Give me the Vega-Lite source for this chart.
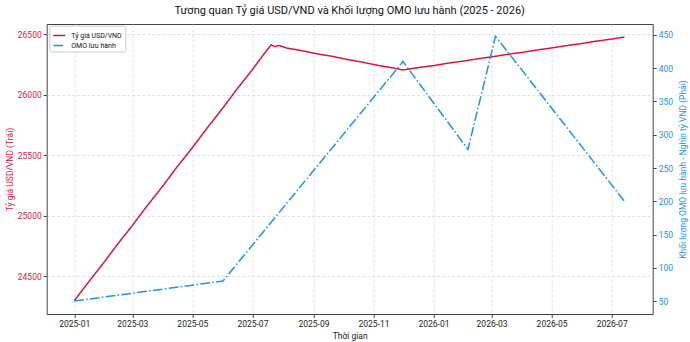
{
  "$schema": "https://vega.github.io/schema/vega-lite/v6.json",
  "width": 606,
  "height": 290,
  "autosize": {"type": "none"},
  "padding": {"left": 46.7, "top": 24, "right": 37.3, "bottom": 28},
  "title": {
    "text": "Tương quan Tỷ giá USD/VND và Khối lượng OMO lưu hành (2025 - 2026)",
    "font": "Roboto",
    "fontSize": 11,
    "fontWeight": "normal",
    "color": "#111111",
    "anchor": "middle",
    "frame": "group",
    "offset": 8
  },
  "config": {
    "font": "Roboto",
    "view": {"stroke": "#444444", "strokeWidth": 1},
    "axis": {
      "labelFont": "Roboto",
      "titleFont": "Roboto",
      "labelFontSize": 8.5,
      "titleFontSize": 8.5,
      "titleFontWeight": "normal",
      "domain": false,
      "tickColor": "#444444",
      "tickSize": 3.5,
      "gridColor": "#d6d6d6",
      "gridDash": [3, 2],
      "gridWidth": 0.7
    },
    "legend": {
      "orient": "none",
      "legendX": 2.6,
      "legendY": 1.5,
      "padding": 3,
      "strokeColor": "#cccccc",
      "fillColor": "white",
      "cornerRadius": 2,
      "symbolType": "stroke",
      "symbolSize": 144,
      "symbolStrokeWidth": 1.5,
      "labelFont": "Roboto",
      "labelFontSize": 7,
      "labelColor": "#111111",
      "labelOffset": 5,
      "rowPadding": -3.5
    }
  },
  "data": {
    "values": [
      {"date": "2025-01-01", "series": "Tỷ giá USD/VND", "value": 24295},
      {"date": "2025-01-15", "series": "Tỷ giá USD/VND", "value": 24445},
      {"date": "2025-02-01", "series": "Tỷ giá USD/VND", "value": 24621},
      {"date": "2025-02-15", "series": "Tỷ giá USD/VND", "value": 24773},
      {"date": "2025-03-01", "series": "Tỷ giá USD/VND", "value": 24917},
      {"date": "2025-03-15", "series": "Tỷ giá USD/VND", "value": 25069},
      {"date": "2025-04-01", "series": "Tỷ giá USD/VND", "value": 25244},
      {"date": "2025-04-15", "series": "Tỷ giá USD/VND", "value": 25397},
      {"date": "2025-05-01", "series": "Tỷ giá USD/VND", "value": 25561},
      {"date": "2025-05-15", "series": "Tỷ giá USD/VND", "value": 25713},
      {"date": "2025-06-01", "series": "Tỷ giá USD/VND", "value": 25889},
      {"date": "2025-06-15", "series": "Tỷ giá USD/VND", "value": 26041},
      {"date": "2025-07-01", "series": "Tỷ giá USD/VND", "value": 26206},
      {"date": "2025-07-12", "series": "Tỷ giá USD/VND", "value": 26327},
      {"date": "2025-07-20", "series": "Tỷ giá USD/VND", "value": 26410},
      {"date": "2025-07-24", "series": "Tỷ giá USD/VND", "value": 26396},
      {"date": "2025-07-28", "series": "Tỷ giá USD/VND", "value": 26406},
      {"date": "2025-08-05", "series": "Tỷ giá USD/VND", "value": 26384},
      {"date": "2025-08-20", "series": "Tỷ giá USD/VND", "value": 26363},
      {"date": "2025-09-05", "series": "Tỷ giá USD/VND", "value": 26336},
      {"date": "2025-09-20", "series": "Tỷ giá USD/VND", "value": 26316},
      {"date": "2025-10-05", "series": "Tỷ giá USD/VND", "value": 26290},
      {"date": "2025-10-20", "series": "Tỷ giá USD/VND", "value": 26269},
      {"date": "2025-11-05", "series": "Tỷ giá USD/VND", "value": 26242},
      {"date": "2025-11-20", "series": "Tỷ giá USD/VND", "value": 26221},
      {"date": "2025-12-01", "series": "Tỷ giá USD/VND", "value": 26203},
      {"date": "2025-12-15", "series": "Tỷ giá USD/VND", "value": 26221},
      {"date": "2026-01-01", "series": "Tỷ giá USD/VND", "value": 26239},
      {"date": "2026-01-15", "series": "Tỷ giá USD/VND", "value": 26258},
      {"date": "2026-02-01", "series": "Tỷ giá USD/VND", "value": 26277},
      {"date": "2026-02-15", "series": "Tỷ giá USD/VND", "value": 26296},
      {"date": "2026-03-01", "series": "Tỷ giá USD/VND", "value": 26311},
      {"date": "2026-03-15", "series": "Tỷ giá USD/VND", "value": 26330},
      {"date": "2026-04-01", "series": "Tỷ giá USD/VND", "value": 26348},
      {"date": "2026-04-15", "series": "Tỷ giá USD/VND", "value": 26367},
      {"date": "2026-05-01", "series": "Tỷ giá USD/VND", "value": 26385},
      {"date": "2026-05-15", "series": "Tỷ giá USD/VND", "value": 26403},
      {"date": "2026-06-01", "series": "Tỷ giá USD/VND", "value": 26422},
      {"date": "2026-06-15", "series": "Tỷ giá USD/VND", "value": 26441},
      {"date": "2026-07-01", "series": "Tỷ giá USD/VND", "value": 26458},
      {"date": "2026-07-14", "series": "Tỷ giá USD/VND", "value": 26475},
      {"date": "2025-01-01", "series": "OMO lưu hành", "value": 50},
      {"date": "2025-06-01", "series": "OMO lưu hành", "value": 80},
      {"date": "2025-12-01", "series": "OMO lưu hành", "value": 410},
      {"date": "2026-02-05", "series": "OMO lưu hành", "value": 278},
      {"date": "2026-03-05", "series": "OMO lưu hành", "value": 448},
      {"date": "2026-07-14", "series": "OMO lưu hành", "value": 200}
    ]
  },
  "encoding": {
    "x": {
      "field": "date",
      "type": "temporal",
      "scale": {
        "domain": [
          {"year": 2024, "month": 12, "date": 4},
          {"year": 2026, "month": 8, "date": 11, "hours": 17}
        ]
      },
      "axis": {
        "title": "Thời gian",
        "format": "%Y-%m",
        "values": [
          {"year": 2025, "month": 1, "date": 1},
          {"year": 2025, "month": 3, "date": 1},
          {"year": 2025, "month": 5, "date": 1},
          {"year": 2025, "month": 7, "date": 1},
          {"year": 2025, "month": 9, "date": 1},
          {"year": 2025, "month": 11, "date": 1},
          {"year": 2026, "month": 1, "date": 1},
          {"year": 2026, "month": 3, "date": 1},
          {"year": 2026, "month": 5, "date": 1},
          {"year": 2026, "month": 7, "date": 1}
        ],
        "labelAngle": 0,
        "labelColor": "#222222",
        "titleColor": "#222222",
        "labelPadding": 2,
        "titlePadding": 3,
        "grid": true
      }
    },
    "color": {
      "field": "series",
      "type": "nominal",
      "scale": {"domain": ["Tỷ giá USD/VND", "OMO lưu hành"], "range": ["#DC143C", "#1E90FF"]},
      "legend": {"title": null}
    },
    "strokeDash": {
      "field": "series",
      "type": "nominal",
      "scale": {"domain": ["Tỷ giá USD/VND", "OMO lưu hành"], "range": [[1, 0], [9.6, 2.4, 1.5, 2.4]]},
      "legend": {"title": null}
    }
  },
  "layer": [
    {
      "transform": [{"filter": "datum.series === 'Tỷ giá USD/VND'"}],
      "mark": {"type": "line", "strokeWidth": 1.5},
      "encoding": {
        "y": {
          "field": "value",
          "type": "quantitative",
          "scale": {"domain": [24186, 26583], "nice": false, "zero": false},
          "axis": {
            "orient": "left",
            "title": "Tỷ giá USD/VND (Trái)",
            "values": [24500, 25000, 25500, 26000, 26500],
            "format": "d",
            "labelColor": "#DC143C",
            "titleColor": "#DC143C",
            "titlePadding": 3,
            "grid": true
          }
        }
      }
    },
    {
      "transform": [{"filter": "datum.series === 'OMO lưu hành'"}],
      "mark": {"type": "line", "strokeWidth": 1.5},
      "encoding": {
        "y": {
          "field": "value",
          "type": "quantitative",
          "scale": {"domain": [30.5, 466.5], "nice": false, "zero": false},
          "axis": {
            "orient": "right",
            "title": "Khối lượng OMO lưu hành - Nghìn tỷ VND (Phải)",
            "titleAngle": 270,
            "titleBaseline": "top",
            "values": [50, 100, 150, 200, 250, 300, 350, 400, 450],
            "format": "d",
            "labelColor": "#1E90FF",
            "titleColor": "#1E90FF",
            "titlePadding": 6,
            "grid": false
          }
        }
      }
    }
  ],
  "resolve": {"scale": {"y": "independent"}}
}
